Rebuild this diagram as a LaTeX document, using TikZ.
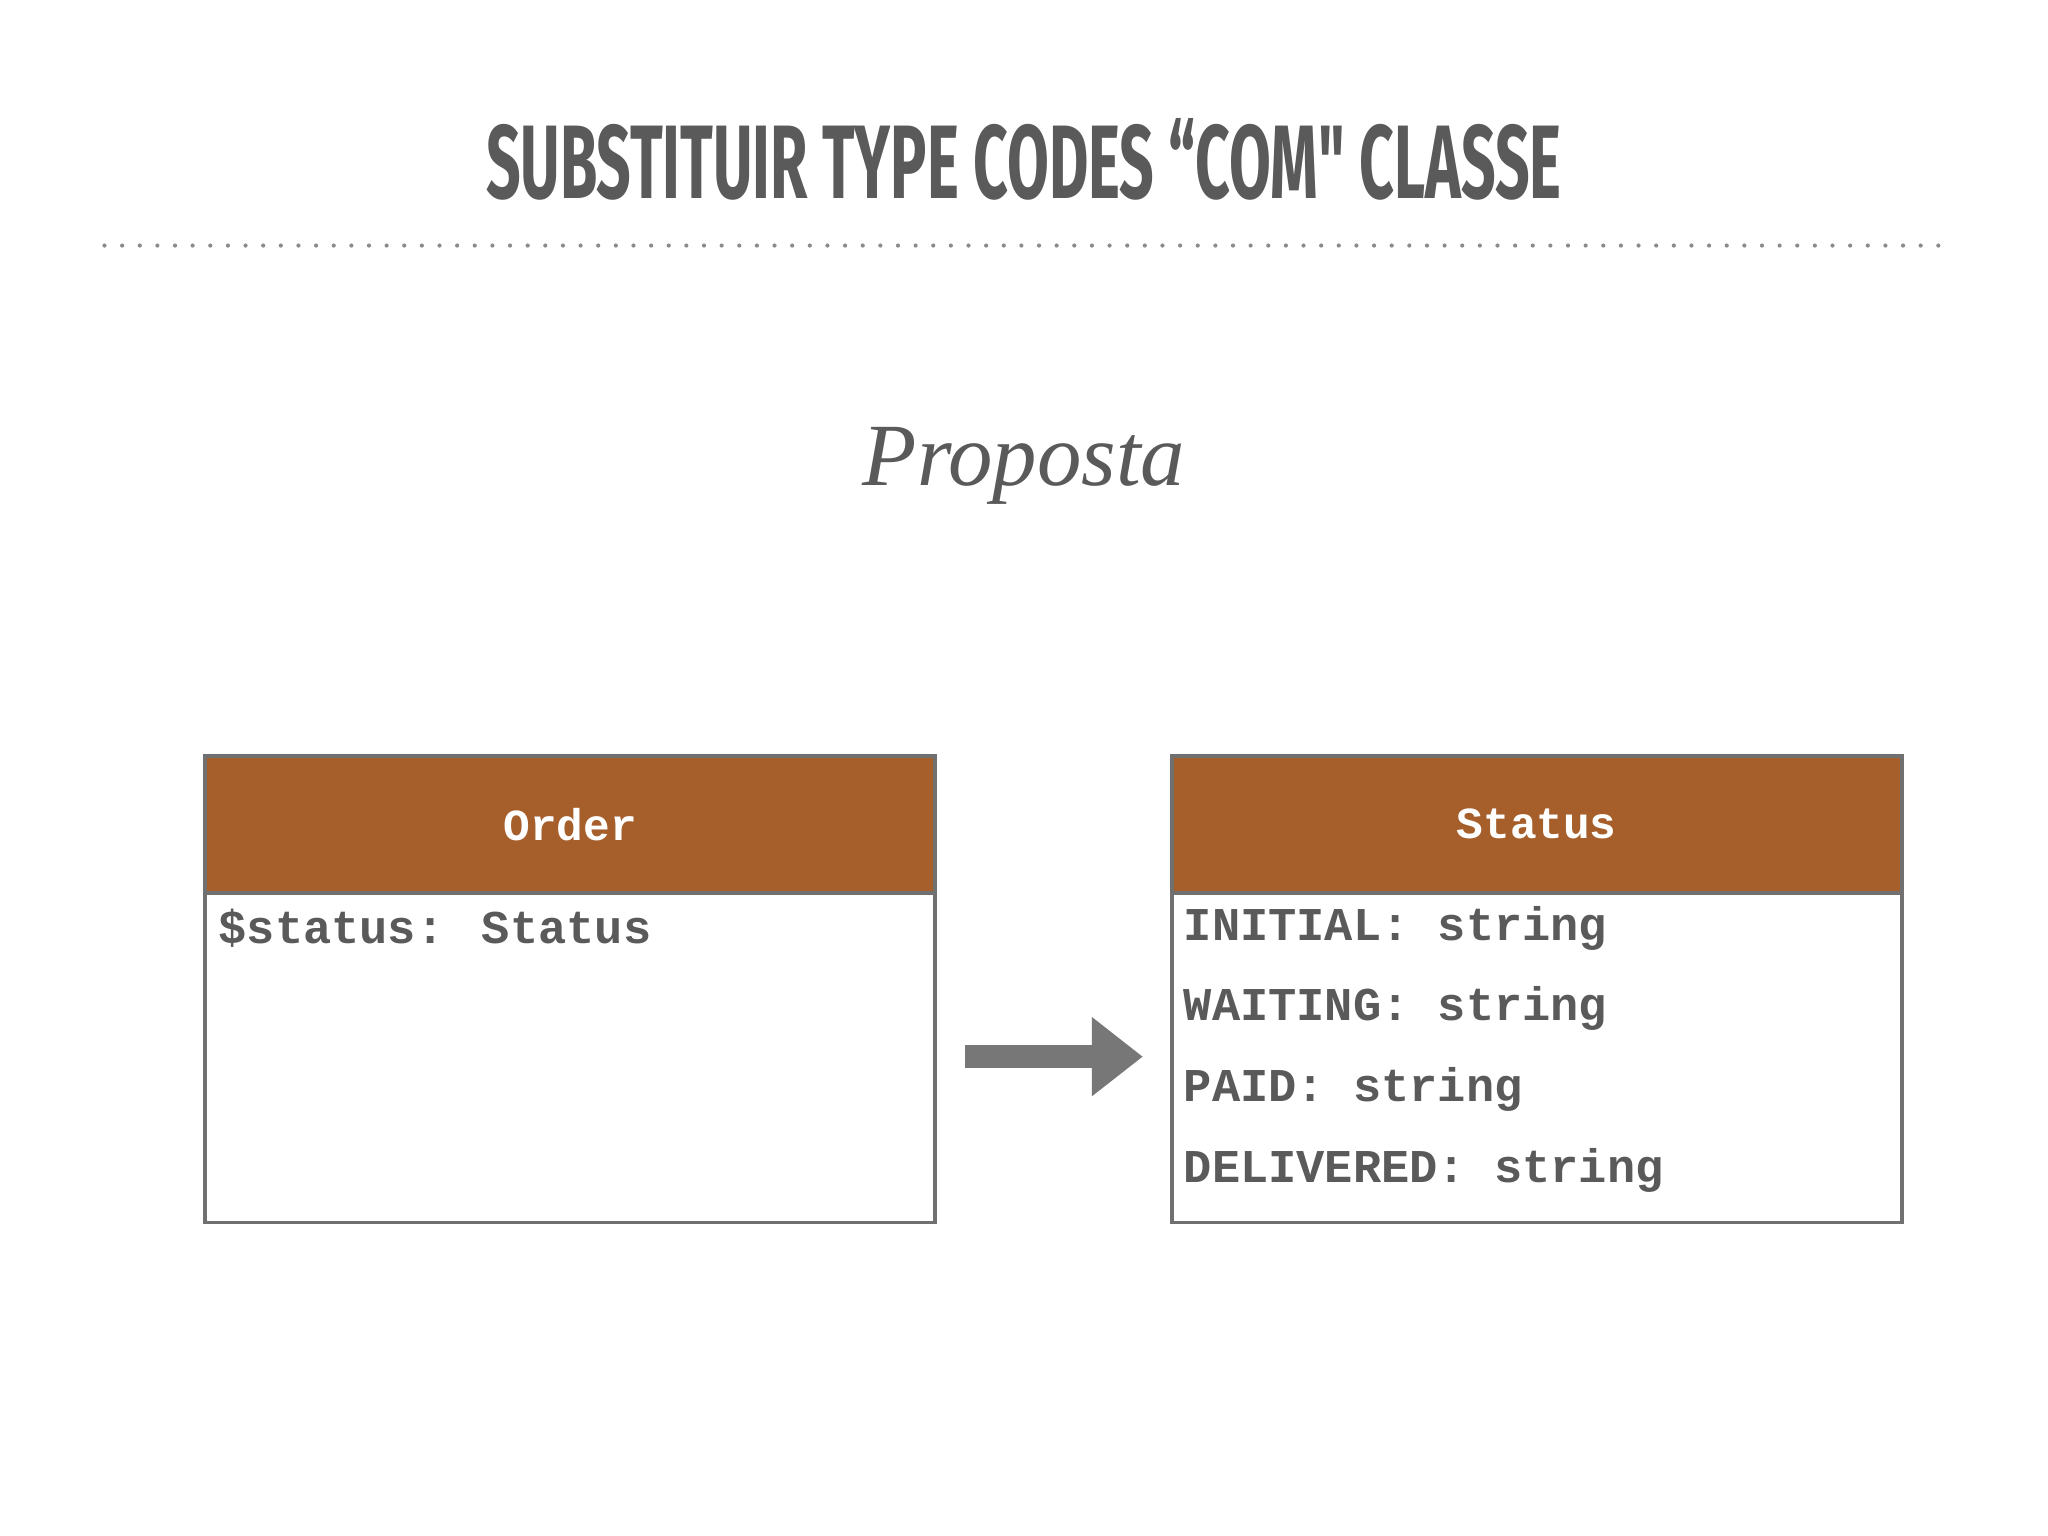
\documentclass[tikz,border=0pt]{standalone}
\usepackage{fontspec}
\setmainfont{Liberation Serif}
\newfontfamily\titlefont{Fira Sans}
\newfontfamily\codefont{Liberation Mono}
\usetikzlibrary{arrows.meta}
\definecolor{txtgray}{HTML}{5A5A5A}
\definecolor{hdr}{HTML}{A65E2A}
\definecolor{bord}{HTML}{707070}
\definecolor{arr}{HTML}{777777}
\tikzset{
  hdrbox/.style={fill=hdr,draw=bord,line width=1.5pt,minimum width=279.5pt,minimum height=52.5pt,inner sep=0pt,text=white,font=\codefont\bfseries\fontsize{17}{17}\selectfont},
  bodybox/.style={fill=white,draw=bord,line width=1.5pt,minimum width=279.5pt,minimum height=126pt,inner sep=0pt},
  row/.style={anchor=west,inner sep=0pt,text=txtgray,font=\codefont\bfseries\fontsize{18}{18}\selectfont}
}
\begin{document}
\begin{tikzpicture}[x=0.5pt,y=-0.5pt]
\useasboundingbox[fill=white] (0,0) rectangle (1568,1176);
\node[text=txtgray] (title) at (784,122) {\scalebox{0.58}[1]{\titlefont\bfseries\fontsize{40}{40}\selectfont SUBSTITUIR TYPE CODES “COM" CLASSE}};
\draw[txtgray!70,line width=1.6pt,line cap=round,dash pattern=on 0pt off 6.75pt] (80,188) -- (1490,188);
\node[text=txtgray,font=\itshape\fontsize{34}{34}\selectfont] (sub) at (784,357) {Proposta};
% Order
\node[bodybox] (obody) at (436.5,810) {};
\node[hdrbox] (ohdr) at (436.5,631.5) {Order};
\node[row] (o1) at (167,711) {\$status: Status};
% Status
\node[bodybox] (sbody) at (1176.5,810) {};
\node[hdrbox] (shdr) at (1176.5,631) {Status};
\node[row] (s1) at (906,711) {INITIAL: string};
\node[row] (s2) at (906,772) {WAITING: string};
\node[row] (s3) at (906,834) {PAID: string};
\node[row] (s4) at (906,896) {DELIVERED: string};
% arrow
\coordinate (a1) at (739,809);
\coordinate (a2) at (875,809);
\draw[arr,line width=9pt,-{Triangle[length=19.5pt,width=29pt]}] (a1) -- (a2);
\end{tikzpicture}
\end{document}
